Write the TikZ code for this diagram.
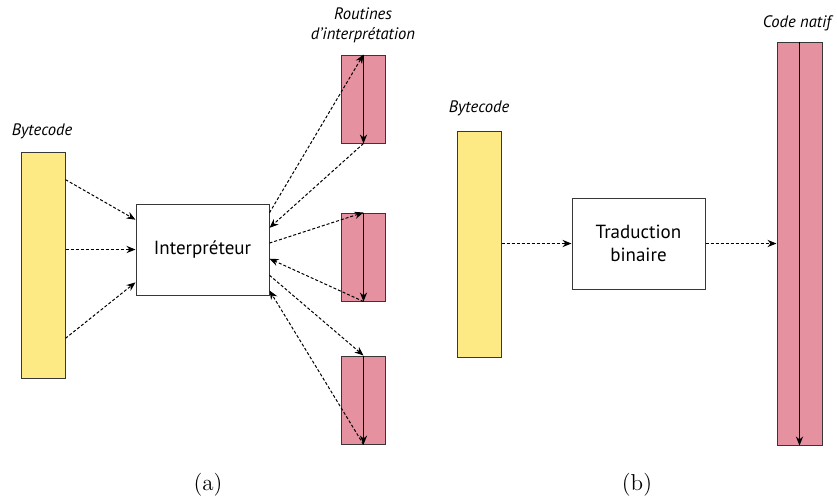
\documentclass[tikz,border=0pt]{standalone}
\usepackage{fontspec}
\newfontfamily\myriad{PT Sans}
\usetikzlibrary{arrows.meta,calc}
\definecolor{bcyellow}{RGB}{253,234,132}
\definecolor{rtpink}{RGB}{229,145,160}
\definecolor{edgegray}{RGB}{55,55,55}
\begin{document}
\begin{tikzpicture}[x=0.5pt,y=-0.5pt,
  bloc/.style={draw=edgegray, line width=0.5pt, inner sep=0pt, minimum width=22pt},
  code/.style={bloc, fill=bcyellow, minimum height=113pt},
  routine/.style={bloc, fill=rtpink, minimum height=44pt},
  proc/.style={draw=edgegray, line width=0.5pt, minimum width=66.5pt, minimum height=45.5pt,
    align=center, font=\myriad\fontsize{9.5}{11.5}\selectfont},
  titre/.style={font=\myriad\itshape\fontsize{8.3}{10}\selectfont, align=center},
  flow/.style={-{Stealth[length=4.5pt,width=3.6pt]}, line width=0.5pt, dash pattern=on 1.5pt off 1pt},
  down/.style={-{Stealth[length=4.5pt,width=3.6pt]}, line width=0.5pt}]
  \useasboundingbox (0,0) rectangle (837,500);

  % (a) interpretation
  \node[code] (bc1) at (43,265) {};
  \node[titre] (bc1lab) at (42,131) {Bytecode};
  \node[proc] (interp) at (202.5,249.5) {Interpréteur};
  \node[routine] (r1) at (363.5,99) {};
  \node[routine] (r2) at (363.5,257) {};
  \node[routine] (r3) at (363.5,400) {};
  \node[titre] (rtlab) at (363,25) {Routines\\d’interprétation};
  \node[font=\fontsize{11.5}{13}\selectfont] (capa) at (208,485) {(a)};

  \draw[down] (r1.north) -- (r1.south);
  \draw[down] (r2.north) -- (r2.south);
  \draw[down] (r3.north) -- (r3.south);

  \draw[flow] ($(bc1.north east)!0.124!(bc1.south east)$) -- ($(interp.north west)!0.176!(interp.south west)$);
  \draw[flow] (bc1.east |- interp.west) -- (interp.west);
  \draw[flow] ($(bc1.north east)!0.823!(bc1.south east)$) -- ($(interp.north west)!0.857!(interp.south west)$);

  \draw[flow] ($(interp.north east)!0.1!(interp.south east)$) -- (r1.north);
  \draw[flow] (r1.south) -- ($(interp.north east)!0.264!(interp.south east)$);
  \draw[flow] ($(interp.north east)!0.43!(interp.south east)$) -- (r2.north);
  \draw[flow] (r2.south) -- ($(interp.north east)!0.6!(interp.south east)$);
  \draw[flow] ($(interp.north east)!0.78!(interp.south east)$) -- (r3.north);
  \draw[flow] (r3.south) -- ($(interp.north east)!0.945!(interp.south east)$);

  % (b) traduction binaire
  \node[code] (bc2) at (479,244) {};
  \node[titre] (bc2lab) at (479,108) {Bytecode};
  \node[proc] (trad) at (638.5,243.5) {Traduction\\binaire};
  \node[bloc, fill=rtpink, minimum height=201.5pt, minimum width=22.5pt] (natif) at (799.5,243.5) {};
  \node[titre] (natiflab) at (797,23) {Code natif};
  \node[font=\fontsize{11.5}{13}\selectfont] (capb) at (637,485) {(b)};

  \draw[down] (natif.north) -- (natif.south);
  \draw[flow] (bc2.east |- trad.west) -- (trad.west);
  \draw[flow] (trad.east) -- (natif.west |- trad.east);
\end{tikzpicture}
\end{document}
